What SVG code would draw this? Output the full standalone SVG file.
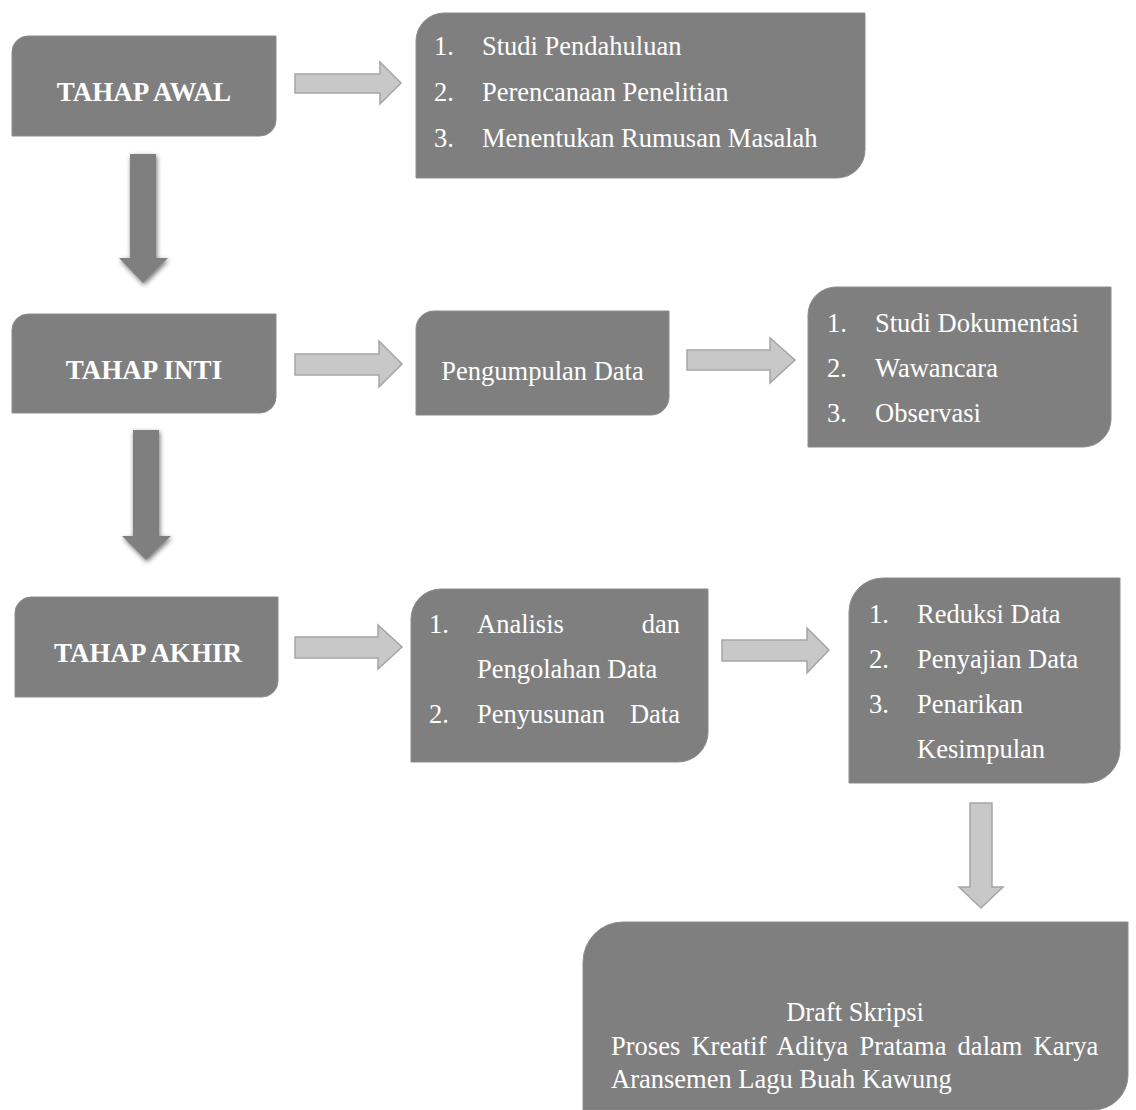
<svg xmlns="http://www.w3.org/2000/svg" width="1136" height="1110" viewBox="0 0 1136 1110">
<defs>
<style>
.box{fill:#7f7f7f;stroke:#8c8c8c;stroke-width:1}
.la{fill:#c8c8c8;stroke:#a5a5a5;stroke-width:1.5}
.da{fill:#7f7f7f}
.t{font-family:"Liberation Serif","Times New Roman",serif;font-size:26.5px;fill:#ffffff}
.h{font-family:"Liberation Serif","Times New Roman",serif;font-size:27px;font-weight:bold;fill:#ffffff}
</style>
<filter id="sh" x="-50%" y="-20%" width="200%" height="140%">
<feGaussianBlur in="SourceAlpha" stdDeviation="2.5"/>
<feOffset dx="1" dy="2" result="b"/>
<feComponentTransfer><feFuncA type="linear" slope="0.55"/></feComponentTransfer>
<feMerge><feMergeNode/><feMergeNode in="SourceGraphic"/></feMerge>
</filter>
</defs>
<rect width="1136" height="1110" fill="#ffffff"/>

<g id="connectors">
<polygon class="la" points="295,74 380,74 380,62 401,83 380,104 380,93 295,93"/>
<polygon class="la" points="295,354 379,354 379,341 402,364 379,387 379,375 295,375"/>
<polygon class="la" points="687,350 770,350 770,338 795,360 770,383 770,370 687,370"/>
<polygon class="la" points="295,637 378,637 378,625 402,647 378,669 378,658 295,658"/>
<polygon class="la" points="722,640 807,640 807,628 829,650 807,673 807,661 722,661"/>
<polygon class="la" points="970,803 992,803 992,887 1003,887 981,908 959,887 970,887"/>
<polygon class="da" filter="url(#sh)" points="130,154 156,154 156,258 168,258 143,283 119,258 130,258"/>
<polygon class="da" filter="url(#sh)" points="133,430 159,430 159,536 171,536 146,560 122,536 133,536"/>
</g>

<g id="tahap-awal">
<path class="box" d="M28,36 H276 V120 A16,16 0 0 1 260,136 H12 V52 A16,16 0 0 1 28,36 Z"/>
<text class="h" x="144" y="101" text-anchor="middle">TAHAP AWAL</text>
</g>

<g id="awal-list">
<path class="box" d="M444,13 H865 V150 A28,28 0 0 1 837,178 H416 V41 A28,28 0 0 1 444,13 Z"/>
<text class="t" x="434" y="55">1.</text><text class="t" x="482" y="55">Studi Pendahuluan</text>
<text class="t" x="434" y="101">2.</text><text class="t" x="482" y="101">Perencanaan Penelitian</text>
<text class="t" x="434" y="147">3.</text><text class="t" x="482" y="147">Menentukan Rumusan Masalah</text>
</g>

<g id="tahap-inti">
<path class="box" d="M28,314 H276 V397 A16,16 0 0 1 260,413 H12 V330 A16,16 0 0 1 28,314 Z"/>
<text class="h" x="144" y="379" text-anchor="middle">TAHAP INTI</text>
</g>

<g id="pengumpulan">
<path class="box" d="M434,311 H669 V397 A18,18 0 0 1 651,415 H416 V329 A18,18 0 0 1 434,311 Z"/>
<text class="t" x="542.5" y="380" text-anchor="middle">Pengumpulan Data</text>
</g>

<g id="inti-list">
<path class="box" d="M836,287 H1111 V419 A28,28 0 0 1 1083,447 H808 V315 A28,28 0 0 1 836,287 Z"/>
<text class="t" x="827" y="332">1.</text><text class="t" x="875" y="332">Studi Dokumentasi</text>
<text class="t" x="827" y="377">2.</text><text class="t" x="875" y="377">Wawancara</text>
<text class="t" x="827" y="422">3.</text><text class="t" x="875" y="422">Observasi</text>
</g>

<g id="tahap-akhir">
<path class="box" d="M31,597 H278 V681 A16,16 0 0 1 262,697 H15 V613 A16,16 0 0 1 31,597 Z"/>
<text class="h" x="148" y="662" text-anchor="middle">TAHAP AKHIR</text>
</g>

<g id="analisis">
<path class="box" d="M441,589 H708 V732 A30,30 0 0 1 678,762 H411 V619 A30,30 0 0 1 441,589 Z"/>
<text class="t" x="429" y="633">1.</text><text class="t" x="477" y="633">Analisis</text><text class="t" x="680" y="633" text-anchor="end">dan</text>
<text class="t" x="477" y="678">Pengolahan Data</text>
<text class="t" x="429" y="723">2.</text><text class="t" x="477" y="723">Penyusunan</text><text class="t" x="680" y="723" text-anchor="end">Data</text>
</g>

<g id="reduksi">
<path class="box" d="M883,578 H1120 V749 A34,34 0 0 1 1086,783 H849 V612 A34,34 0 0 1 883,578 Z"/>
<text class="t" x="869" y="623">1.</text><text class="t" x="917" y="623">Reduksi Data</text>
<text class="t" x="869" y="668">2.</text><text class="t" x="917" y="668">Penyajian Data</text>
<text class="t" x="869" y="713">3.</text><text class="t" x="917" y="713">Penarikan</text>
<text class="t" x="917" y="758">Kesimpulan</text>
</g>

<g id="draft-skripsi">
<path class="box" d="M623,922 H1128 V1075 A35,35 0 0 1 1093,1110 H583 V962 A40,40 0 0 1 623,922 Z"/>
<text class="t" x="855" y="1021" text-anchor="middle">Draft Skripsi</text>
<text class="t" x="611" y="1055" word-spacing="4.6">Proses Kreatif Aditya Pratama dalam Karya</text>
<text class="t" x="611" y="1088">Aransemen Lagu Buah Kawung</text>
</g>
</svg>
